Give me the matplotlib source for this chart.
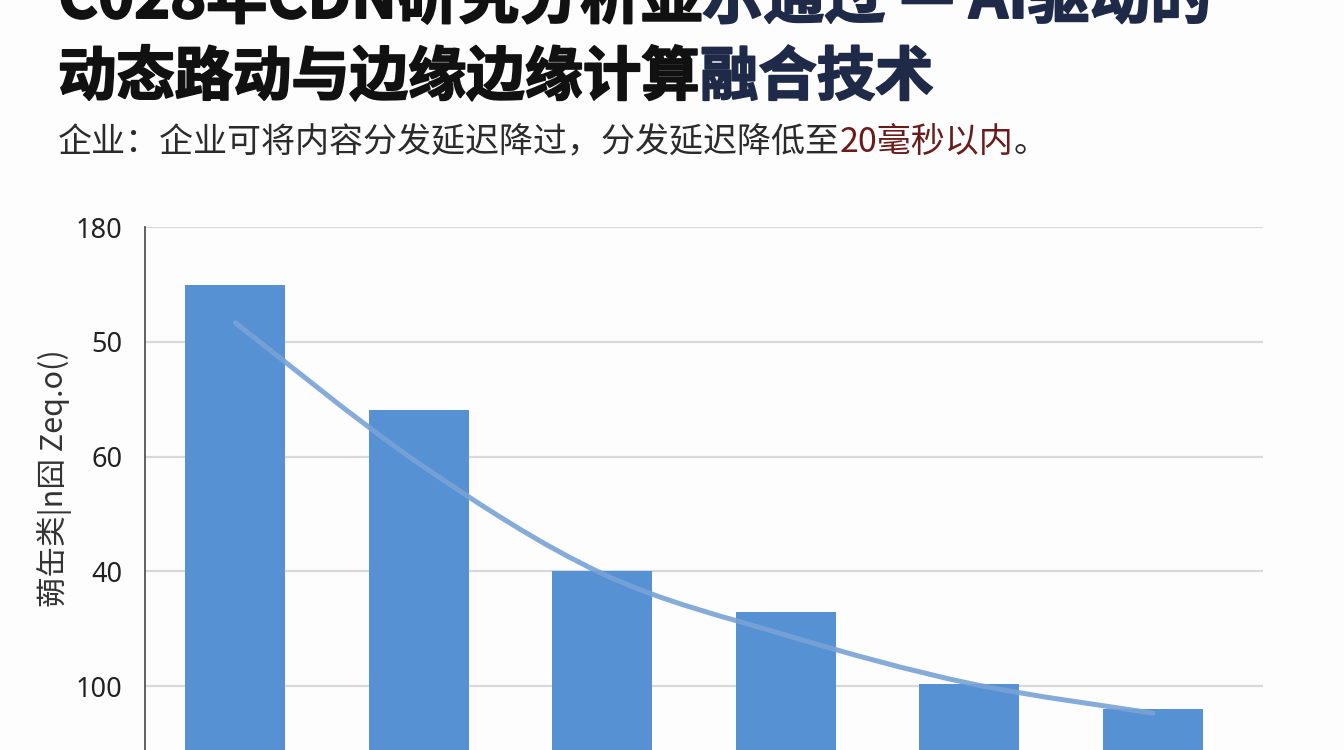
import matplotlib
matplotlib.use("Agg")
import matplotlib.pyplot as plt
import matplotlib.patheffects as pe
from matplotlib.path import Path
from matplotlib.patches import PathPatch

# data
positions = [0, 1, 2, 3, 4, 5]
bar_values = [89.9, 68.2, 40.0, 32.9, 20.3, 16.0]
trend_values = [83.3, 58.8, 39.6, 28.9, 20.5, 15.3]
tick_values = [20, 40, 60, 80, 100]
tick_labels = ["100", "40", "60", "50", "180"]

title_line1 = [("C028年CDN研究分析显", "#111111"), ("示通过 — AI驱动的", "#1e2a47")]
title_line2 = [("动态路动与边缘边缘计算", "#111111"), ("融合技术", "#1e2a47")]
subtitle = [("企业：企业可将内容分发延迟降过，分发延迟降低至", "#2b2b2b"),
            ("20毫秒以内", "#6a1b1b"), ("。", "#2b2b2b")]
y_label = "蒴缶类|n囧 Zeq.o()"

CJK = ["Noto Sans CJK SC", "DejaVu Sans"]
plt.rcParams["font.family"] = CJK

W, H = 1344, 750
fig = plt.figure(figsize=(W / 100, H / 100), dpi=100, facecolor="#fdfdfd")

ax = fig.add_axes([145 / W, (H - 801) / H, (1263 - 145) / W, 574 / H])
ax.set_facecolor("#fdfdfd")


def chain(pieces, x_px, baseline_px, size, weight, stroke=0):
    """Write differently coloured pieces one after another on a single line."""
    effects = []
    prev = fig.text(x_px / W, 1 - baseline_px / H, pieces[0][0], color=pieces[0][1],
                    fontsize=size, fontweight=weight, va="baseline", ha="left")
    if stroke:
        prev.set_path_effects([pe.withStroke(linewidth=stroke, foreground=pieces[0][1])])
    for text, color in pieces[1:]:
        prev = ax.annotate(text, xy=(1, 0), xycoords=prev, va="bottom", ha="left",
                           color=color, fontsize=size, fontweight=weight,
                           annotation_clip=False)
        if stroke:
            prev.set_path_effects([pe.withStroke(linewidth=stroke, foreground=color)])


ax.bar(positions, bar_values, width=0.545, color="#5591d3", zorder=2)

# smooth trend line through the trend values (Catmull-Rom as cubic Bezier)
pts = list(zip(positions, trend_values))
verts = [pts[0]]
codes = [Path.MOVETO]
for i in range(len(pts) - 1):
    p0 = pts[max(i - 1, 0)]
    p1 = pts[i]
    p2 = pts[i + 1]
    p3 = pts[min(i + 2, len(pts) - 1)]
    c1 = (p1[0] + (p2[0] - p0[0]) / 6, p1[1] + (p2[1] - p0[1]) / 6)
    c2 = (p2[0] - (p3[0] - p1[0]) / 6, p2[1] - (p3[1] - p1[1]) / 6)
    verts += [c1, c2, p2]
    codes += [Path.CURVE4] * 3
ax.add_patch(PathPatch(Path(verts, codes), fill=False, edgecolor="#78a2d6",
                       linewidth=3.6, alpha=0.9, capstyle="round", zorder=3))

ax.set_xlim(-0.493, 5.6)
ax.set_ylim(0, 100)
ax.set_yticks(tick_values)
ax.set_yticklabels(tick_labels, fontsize=19.5, color="#222222", family=["Noto Sans", "DejaVu Sans"])
ax.tick_params(axis="y", length=0, pad=16)
ax.set_xticks([])
ax.grid(axis="y", color="#d9d9d9", linewidth=1.6, zorder=0)
for side in ["top", "right", "bottom"]:
    ax.spines[side].set_visible(False)
ax.spines["left"].set_color("#555555")
ax.spines["left"].set_linewidth(1.3)

fig.text(55 / W, 1 - 478 / H, y_label, rotation=90, ha="center", va="center",
         fontsize=22, color="#333333")

# first title line is cropped at the top edge, as in the reference
chain(title_line1, 58, 18, 44, "heavy", stroke=1.4)
chain(title_line2, 58, 95, 42, "heavy", stroke=1.4)
chain(subtitle, 58, 152, 24.5, "normal")

fig.savefig("out.png", dpi=100, facecolor=fig.get_facecolor())
